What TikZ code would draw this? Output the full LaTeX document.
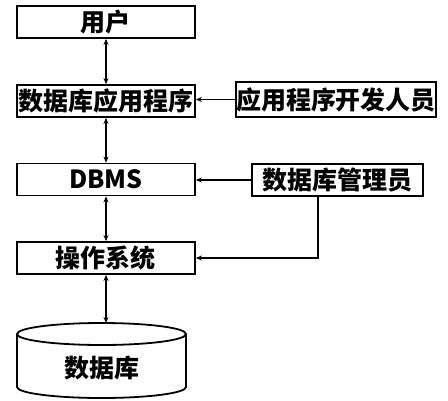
\documentclass[tikz,border=0pt]{standalone}
\usepackage{fontspec}
\newfontfamily\cjk{Noto Sans CJK SC}
\usetikzlibrary{arrows.meta}
\begin{document}
\begin{tikzpicture}[x=1pt, y=-1pt,
    layer/.style={draw, line width=1.8pt, minimum width=178pt, minimum height=32pt,
      inner sep=0pt, font=\cjk\bfseries\fontsize{25}{25}\selectfont},
    link/.style={line width=1.3pt, -{Stealth[length=6pt,width=5pt]}},
    dlink/.style={line width=1.3pt, {Stealth[length=6pt,width=5pt]}-{Stealth[length=6pt,width=5pt]}}]
    \useasboundingbox (0,0) rectangle (448,400);

    \node[layer] (user) at (106,22) {用户};
    \node[layer] (app) at (106,101) {数据库应用程序};
    \node[layer, minimum width=200pt, minimum height=35pt] (dev) at (336,99.5) {应用程序开发人员};
    \node[layer] (dbms) at (106,179.5) {DBMS};
    \node[layer, minimum width=171pt] (dba) at (337.5,180) {数据库管理员};
    \node[layer] (os) at (106,258) {操作系统};

    % database cylinder
    \draw[line width=1.8pt] (101.5,334) ellipse [x radius=84.5, y radius=11];
    \draw[line width=1.8pt] (17,334) -- (17,387) arc [start angle=180, end angle=0, x radius=84.5, y radius=11] -- (186,334);
    \node[font=\cjk\bfseries\fontsize{25}{25}\selectfont] (db) at (101.5,368) {数据库};
    \coordinate (dbtop) at (106,323);

    \draw[dlink] (user) -- (app);
    \draw[dlink] (app) -- (dbms);
    \draw[dlink] (dbms) -- (os);
    \draw[dlink] (os) -- (dbtop);
    \draw[link] (dev.west) -- (app.east |- dev.west);
    \draw[link] (dba.west) -- (dbms.east |- dba.west);
    \draw[link] ([xshift=-19.5pt]dba.south) |- (os.east);
\end{tikzpicture}
\end{document}
